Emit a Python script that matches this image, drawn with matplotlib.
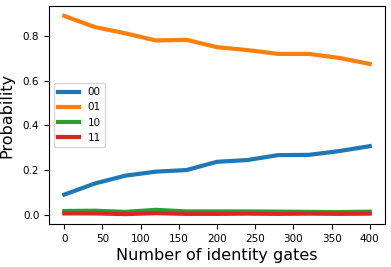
import matplotlib
matplotlib.use("Agg")
import matplotlib.pyplot as plt

gates = [0, 40, 80, 120, 160, 200, 240, 280, 320, 360, 400]
p00 = [0.090, 0.140, 0.175, 0.193, 0.200, 0.237, 0.245, 0.267, 0.268, 0.285, 0.307]
p01 = [0.890, 0.840, 0.812, 0.780, 0.783, 0.750, 0.737, 0.720, 0.720, 0.702, 0.675]
p10 = [0.017, 0.018, 0.013, 0.022, 0.015, 0.015, 0.015, 0.014, 0.013, 0.012, 0.014]
p11 = [0.006, 0.006, 0.003, 0.007, 0.004, 0.004, 0.005, 0.004, 0.005, 0.004, 0.005]
labels = ["00", "01", "10", "11"]

fig = plt.figure(figsize=(3.91, 2.67), dpi=100)
ax = fig.add_axes([49/391, 1-224/267, 336/391, 218/267])
for vals, lab in zip([p00, p01, p10, p11], labels):
    ax.plot(gates, vals, lw=3, label=lab)
ax.set_xlabel("Number of identity gates", fontsize=11.5, labelpad=3)
ax.set_ylabel("Probability", fontsize=11.5, labelpad=6)
ax.tick_params(labelsize=7.5)
ax.set_xticks([0, 50, 100, 150, 200, 250, 300, 350, 400])
ax.set_yticks([0.0, 0.2, 0.4, 0.6, 0.8])
ax.legend(loc="center left", fontsize=7.5)
fig.savefig("out.png", dpi=100)
